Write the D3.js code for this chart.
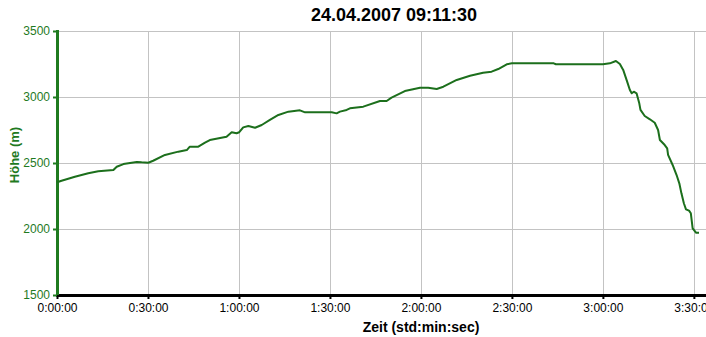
<!DOCTYPE html>
<html>
<head>
<meta charset="utf-8">
<script src="https://cdn.jsdelivr.net/npm/d3@7"></script>
<style>
  body { margin: 0; background: #fff; }
  svg { display: block; font-family: "Liberation Sans", Arial, sans-serif; }
</style>
</head>
<body>
<svg id="chart" width="706" height="337"></svg>
<script>
// elapsed time in minutes
const minutes = [
  0, 1.5, 5.9, 10.3, 13.6, 18.6, 19.7, 21.9, 26.3, 27.9, 30.1, 31.7, 35.6, 40.0,
  42.8, 43.8, 46.6, 48.8, 50.4, 55.9, 57.6, 59.2, 60.1, 61.4, 63.1, 65.3, 67.5,
  70.2, 73.0, 76.3, 80.1, 81.8, 86.7, 90.6, 92.2, 93.3, 95.5, 96.6, 101.0, 106.5,
  108.7, 110.3, 114.7, 119.7, 122.4, 125.2, 127.4, 131.8, 136.2, 140.5, 143.3,
  145.5, 148.3, 150.0, 163.8, 164.5, 180.0, 182.3, 184.3, 185.6, 186.7, 188.0,
  188.9, 189.5, 190.2, 191.1, 192.0, 192.4, 193.8, 195.5, 197.1, 198.2, 198.8,
  200.4, 201.2, 201.5, 203.0, 204.3, 205.2, 205.9, 206.7, 207.4, 208.4, 209.0,
  209.6, 210.7, 211.7
];
// altitude in metres
const hoehe = [
  2354, 2366, 2396, 2422, 2437, 2447, 2472, 2492, 2508, 2505, 2502, 2517, 2561, 2586,
  2598, 2624, 2624, 2654, 2674, 2699, 2733, 2725, 2733, 2770, 2780, 2767, 2788,
  2826, 2864, 2889, 2899, 2884, 2884, 2884, 2876, 2889, 2902, 2914, 2927, 2970,
  2970, 2995, 3045, 3070, 3070, 3061, 3078, 3129, 3161, 3184, 3192,
  3212, 3248, 3255, 3255, 3248, 3248, 3255, 3273, 3250, 3205, 3116,
  3053, 3028, 3040, 3028, 2952, 2902, 2856, 2831, 2805, 2750, 2674,
  2636, 2611, 2561, 2485, 2409, 2346, 2270, 2195, 2149, 2139, 2119,
  2005, 1972, 1972
];
const yTicks = [1500, 2000, 2500, 3000, 3500];
const xTicks = [0, 30, 60, 90, 120, 150, 180, 210];
const xTickLabels = ["0:00:00", "0:30:00", "1:00:00", "1:30:00", "2:00:00", "2:30:00", "3:00:00", "3:30:00"];

const title = "24.04.2007 09:11:30";
const xTitle = "Zeit (std:min:sec)";
const yTitle = "Höhe (m)";

const green = "#1f7a1f";
const lineGreen = "#1c6f1c";
const grid = "#c3c3c3";

var margin = {left: 57, right: 0, top: 31, bottom: 42};
var width = 706, height = 337;

var svg = d3.select("#chart");

var x = d3.scaleLinear()
    .domain([0, 214])
    .range([margin.left, width - margin.right]);

var y = d3.scaleLinear()
    .domain([1500, 3500])
    .range([height - margin.bottom, margin.top]);

// grid
svg.append("g")
    .attr("class", "grid-y")
  .selectAll("line")
    .data(yTicks.slice(1))
  .enter().append("line")
    .attr("x1", x(0)).attr("x2", width)
    .attr("y1", d => y(d) + 0.5).attr("y2", d => y(d) + 0.5)
    .attr("stroke", grid);

svg.append("g")
    .attr("class", "grid-x")
  .selectAll("line")
    .data(xTicks.slice(1))
  .enter().append("line")
    .attr("x1", d => Math.round(x(d)) + 0.5).attr("x2", d => Math.round(x(d)) + 0.5)
    .attr("y1", y(3500)).attr("y2", y(1500))
    .attr("stroke", grid);

// x axis
var xAxis = svg.append("g")
    .attr("transform", `translate(0,${y(1500)})`)
    .call(d3.axisBottom(x)
      .tickValues(xTicks)
      .tickFormat((d, i) => xTickLabels[i])
      .tickSize(4)
      .tickPadding(4));
xAxis.select(".domain").remove();
xAxis.selectAll(".tick line").attr("stroke", "#000").attr("stroke-width", 2);
xAxis.selectAll(".tick text")
    .attr("fill", "#000")
    .style("font-size", "12px")
    .style("font-family", '"Liberation Sans", Arial, sans-serif');
xAxis.append("line")
    .attr("x1", x(0) - 1).attr("x2", width)
    .attr("y1", 0.5).attr("y2", 0.5)
    .attr("stroke", "#000")
    .attr("stroke-width", 3);

// y axis
var yAxis = svg.append("g")
    .attr("transform", `translate(${x(0)},0)`)
    .call(d3.axisLeft(y)
      .tickValues(yTicks)
      .tickFormat(d3.format("d"))
      .tickSize(4)
      .tickPadding(3));
yAxis.select(".domain").remove();
yAxis.selectAll(".tick line").attr("stroke", green).attr("stroke-width", 2);
yAxis.selectAll(".tick text")
    .attr("fill", green)
    .style("font-size", "12px")
    .style("font-family", '"Liberation Sans", Arial, sans-serif');
yAxis.append("line")
    .attr("x1", 0.5).attr("x2", 0.5)
    .attr("y1", y(3500) - 1).attr("y2", y(1500))
    .attr("stroke", green)
    .attr("stroke-width", 3);

// altitude profile
var line = d3.line()
    .x((d, i) => x(minutes[i]))
    .y(d => y(d));

svg.append("path")
    .datum(hoehe)
    .attr("d", line)
    .attr("fill", "none")
    .attr("stroke", lineGreen)
    .attr("stroke-width", 2)
    .attr("stroke-linejoin", "round");

// titles
svg.append("text")
    .attr("x", 394).attr("y", 21)
    .attr("text-anchor", "middle")
    .style("font-size", "18px")
    .style("font-weight", "bold")
    .text(title);

svg.append("text")
    .attr("x", 421).attr("y", 332)
    .attr("text-anchor", "middle")
    .style("font-size", "14px")
    .style("font-weight", "bold")
    .text(xTitle);

svg.append("text")
    .attr("transform", "translate(19,155) rotate(-90)")
    .attr("text-anchor", "middle")
    .attr("fill", green)
    .style("font-size", "13px")
    .style("font-weight", "bold")
    .text(yTitle);
</script>
</body>
</html>
